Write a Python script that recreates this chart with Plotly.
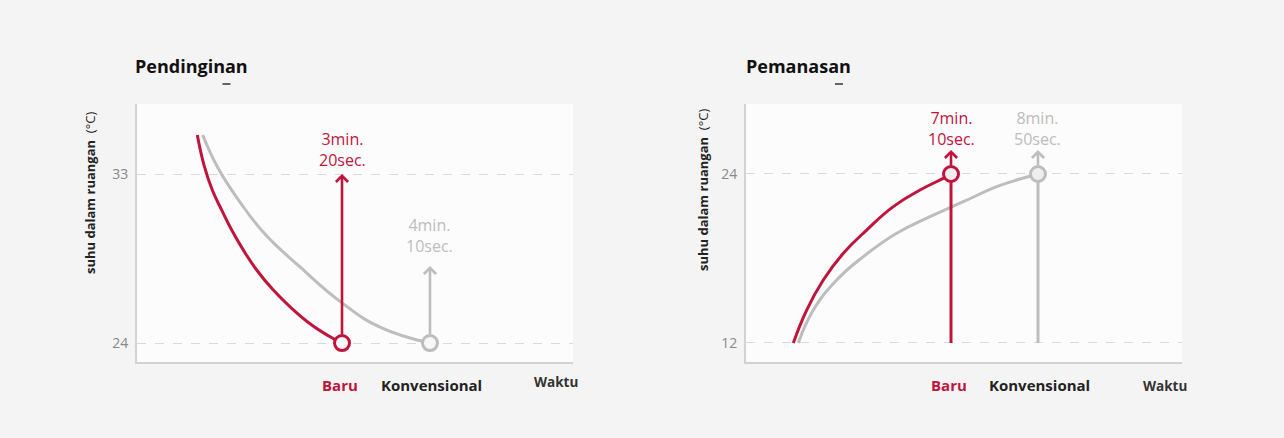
import plotly.graph_objects as go
from plotly.subplots import make_subplots

RED = "#c0143c"
GREY = "#bdbdbd"
FONT = "Open Sans"

# --- Pendinginan (cooling), x in schematic time units 0-100, y in degC ---
cool_new_x = [13.83, 15.37, 17.27, 19.43, 21.72, 24.40, 27.45, 31.26, 35.48, 40.07, 43.88, 47.02]
cool_new_y = [35.08, 33.48, 32.15, 31.08, 30.02, 28.95, 27.89, 26.82, 25.85, 24.96, 24.39, 24.0]
cool_old_x = [15.07, 18.58, 23.62, 29.13, 37.39, 46.95, 55.73, 67.20]
cool_old_y = [35.08, 33.32, 31.51, 29.86, 28.05, 26.15, 24.85, 24.0]
cool_ticks = [24, 33]
cool_arrow_tips = [33.0, 28.1]
cool_labels = ["3min.<br>20sec.", "4min.<br>10sec."]
cool_label_y = [34.33, 29.75]

# --- Pemanasan (heating) ---
heat_new_x = [10.85, 13.92, 17.73, 22.32, 27.68, 33.78, 39.91, 46.03, 47.02]
heat_new_y = [12.0, 14.34, 16.47, 18.37, 20.02, 21.68, 22.86, 23.81, 24.0]
heat_old_x = [12.0, 15.44, 20.80, 26.90, 34.56, 42.20, 49.84, 57.50, 62.84, 66.97]
heat_old_y = [12.0, 14.34, 16.47, 18.13, 19.79, 20.97, 22.03, 23.10, 23.64, 24.0]
heat_ticks = [12, 24]
heat_arrow_tips = [25.7, 25.7]
heat_labels = ["7min.<br>10sec.", "8min.<br>50sec."]
heat_label_y = [27.23, 27.23]

end_x = [47.02, 66.97]
cool_end_x = [47.02, 67.2]
series_names = ["Baru", "Konvensional"]
panel_titles = ["Pendinginan", "Pemanasan"]
y_title = "<b>suhu dalam ruangan</b>  (°C)"

fig = make_subplots(rows=1, cols=2)

curve = dict(width=3, shape="spline", smoothing=1.3)

# cooling curves
fig.add_trace(go.Scatter(x=cool_old_x, y=cool_old_y, mode="lines", line=dict(color=GREY, **curve)), row=1, col=1)
fig.add_trace(go.Scatter(x=cool_new_x, y=cool_new_y, mode="lines", line=dict(color=RED, **curve)), row=1, col=1)
for i, c in enumerate([RED, GREY]):
    fig.add_trace(go.Scatter(x=[cool_end_x[i]], y=[cool_new_y[-1]], mode="markers",
                             marker=dict(size=15, color="#f7f7f7", line=dict(color=c, width=3))), row=1, col=1)

# heating curves
fig.add_trace(go.Scatter(x=heat_old_x, y=heat_old_y, mode="lines", line=dict(color=GREY, **curve)), row=1, col=2)
fig.add_trace(go.Scatter(x=heat_new_x, y=heat_new_y, mode="lines", line=dict(color=RED, **curve)), row=1, col=2)
for i, c in enumerate([RED, GREY]):
    fig.add_trace(go.Scatter(x=[end_x[i], end_x[i]], y=[heat_ticks[0], heat_new_y[-1]], mode="lines",
                             line=dict(color=c, width=3)), row=1, col=2)
    fig.add_trace(go.Scatter(x=[end_x[i]], y=[heat_new_y[-1]], mode="markers",
                             marker=dict(size=15, color="#eeeeee", line=dict(color=c, width=3))), row=1, col=2)

ann = []
# arrows + time labels
for i, c in enumerate([RED, GREY]):
    ann.append(dict(x=cool_end_x[i], y=cool_arrow_tips[i], ax=cool_end_x[i], ay=cool_new_y[-1],
                    xref="x", yref="y", axref="x", ayref="y", showarrow=True, arrowhead=4,
                    arrowsize=0.9, arrowwidth=2.6, arrowcolor=c, startstandoff=7, text=""))
    ann.append(dict(x=cool_end_x[i], y=cool_label_y[i], xref="x", yref="y", text=cool_labels[i],
                    showarrow=False, font=dict(family=FONT, size=16, color=c)))
    ann.append(dict(x=end_x[i], y=heat_arrow_tips[i], ax=end_x[i], ay=heat_new_y[-1],
                    xref="x2", yref="y2", axref="x2", ayref="y2", showarrow=True, arrowhead=4,
                    arrowsize=0.9, arrowwidth=2.6, arrowcolor=c, startstandoff=7, text=""))
    ann.append(dict(x=end_x[i], y=heat_label_y[i], xref="x2", yref="y2", text=heat_labels[i],
                    showarrow=False, font=dict(family=FONT, size=16, color=c)))

# bottom labels
for xr, xs in [("x", cool_end_x), ("x2", end_x)]:
    ann.append(dict(x=xs[0] - 0.5, y=1 - 385 / 438, xref=xr, yref="paper", text="<b>%s</b>" % series_names[0],
                    xanchor="center", yanchor="middle", showarrow=False,
                    font=dict(family=FONT, size=15, color=RED)))
    ann.append(dict(x=xs[1] + 0.3, y=1 - 385 / 438, xref=xr, yref="paper", text="<b>%s</b>" % series_names[1],
                    xanchor="center", yanchor="middle", showarrow=False,
                    font=dict(family=FONT, size=15, color="#222")))
    ann.append(dict(x=96.2, y=1 - (382 if xr == "x" else 386) / 438, xref=xr, yref="paper", text="<b>Waktu</b>",
                    xanchor="center", yanchor="middle", showarrow=False,
                    font=dict(family=FONT, size=13.5, color="#333")))

# panel titles and y titles
title_x = [191.5, 798]
ytitle_pos = [(90, 193), (703, 190)]
for i in range(2):
    ann.append(dict(x=title_x[i] / 1284, y=1 - 66 / 438, xref="paper", yref="paper",
                    text="<b>%s</b>" % panel_titles[i], xanchor="center", yanchor="middle",
                    showarrow=False, font=dict(family=FONT, size=18, color="#111")))
    ann.append(dict(x=ytitle_pos[i][0] / 1284, y=1 - ytitle_pos[i][1] / 438, xref="paper", yref="paper",
                    text=y_title, textangle=-90, xanchor="center", yanchor="middle",
                    showarrow=False, font=dict(family=FONT, size=13, color="#222")))

shapes = []
for cx in [226.5, 839]:
    shapes.append(dict(type="line", xref="paper", yref="paper", x0=(cx - 4) / 1284, x1=(cx + 4) / 1284,
                       y0=1 - 84 / 438, y1=1 - 84 / 438, line=dict(color="#333", width=1.5)))

ydom = [1 - 362 / 438, 1 - 104 / 438]
axis_common = dict(showline=True, linecolor="#d2d2d2", linewidth=2, zeroline=False, fixedrange=True)
fig.update_xaxes(range=[0, 100], showgrid=False, showticklabels=False, ticks="", **axis_common)
fig.update_yaxes(showgrid=True, gridcolor="#d9d9d9", griddash="dash", gridwidth=1, ticks="",
                 tickfont=dict(family=FONT, size=14, color="#888"), ticklabelstandoff=4, **axis_common)
fig.update_layout(
    xaxis=dict(domain=[137 / 1284, 573 / 1284]),
    xaxis2=dict(domain=[746 / 1284, 1182 / 1284]),
    yaxis=dict(domain=ydom, range=[22.99, 36.73], tickvals=cool_ticks),
    yaxis2=dict(domain=ydom, range=[10.65, 28.97], tickvals=heat_ticks),
    width=1284, height=438,
    margin=dict(l=0, r=0, t=0, b=0),
    paper_bgcolor="#f4f4f4", plot_bgcolor="#fcfcfc",
    showlegend=False,
    annotations=ann,
    shapes=shapes,
    font=dict(family=FONT),
)

fig.write_html("out.html", config={"displayModeBar": False},
               post_script="document.body.style.margin='0';document.body.style.background='#f4f4f4';")
